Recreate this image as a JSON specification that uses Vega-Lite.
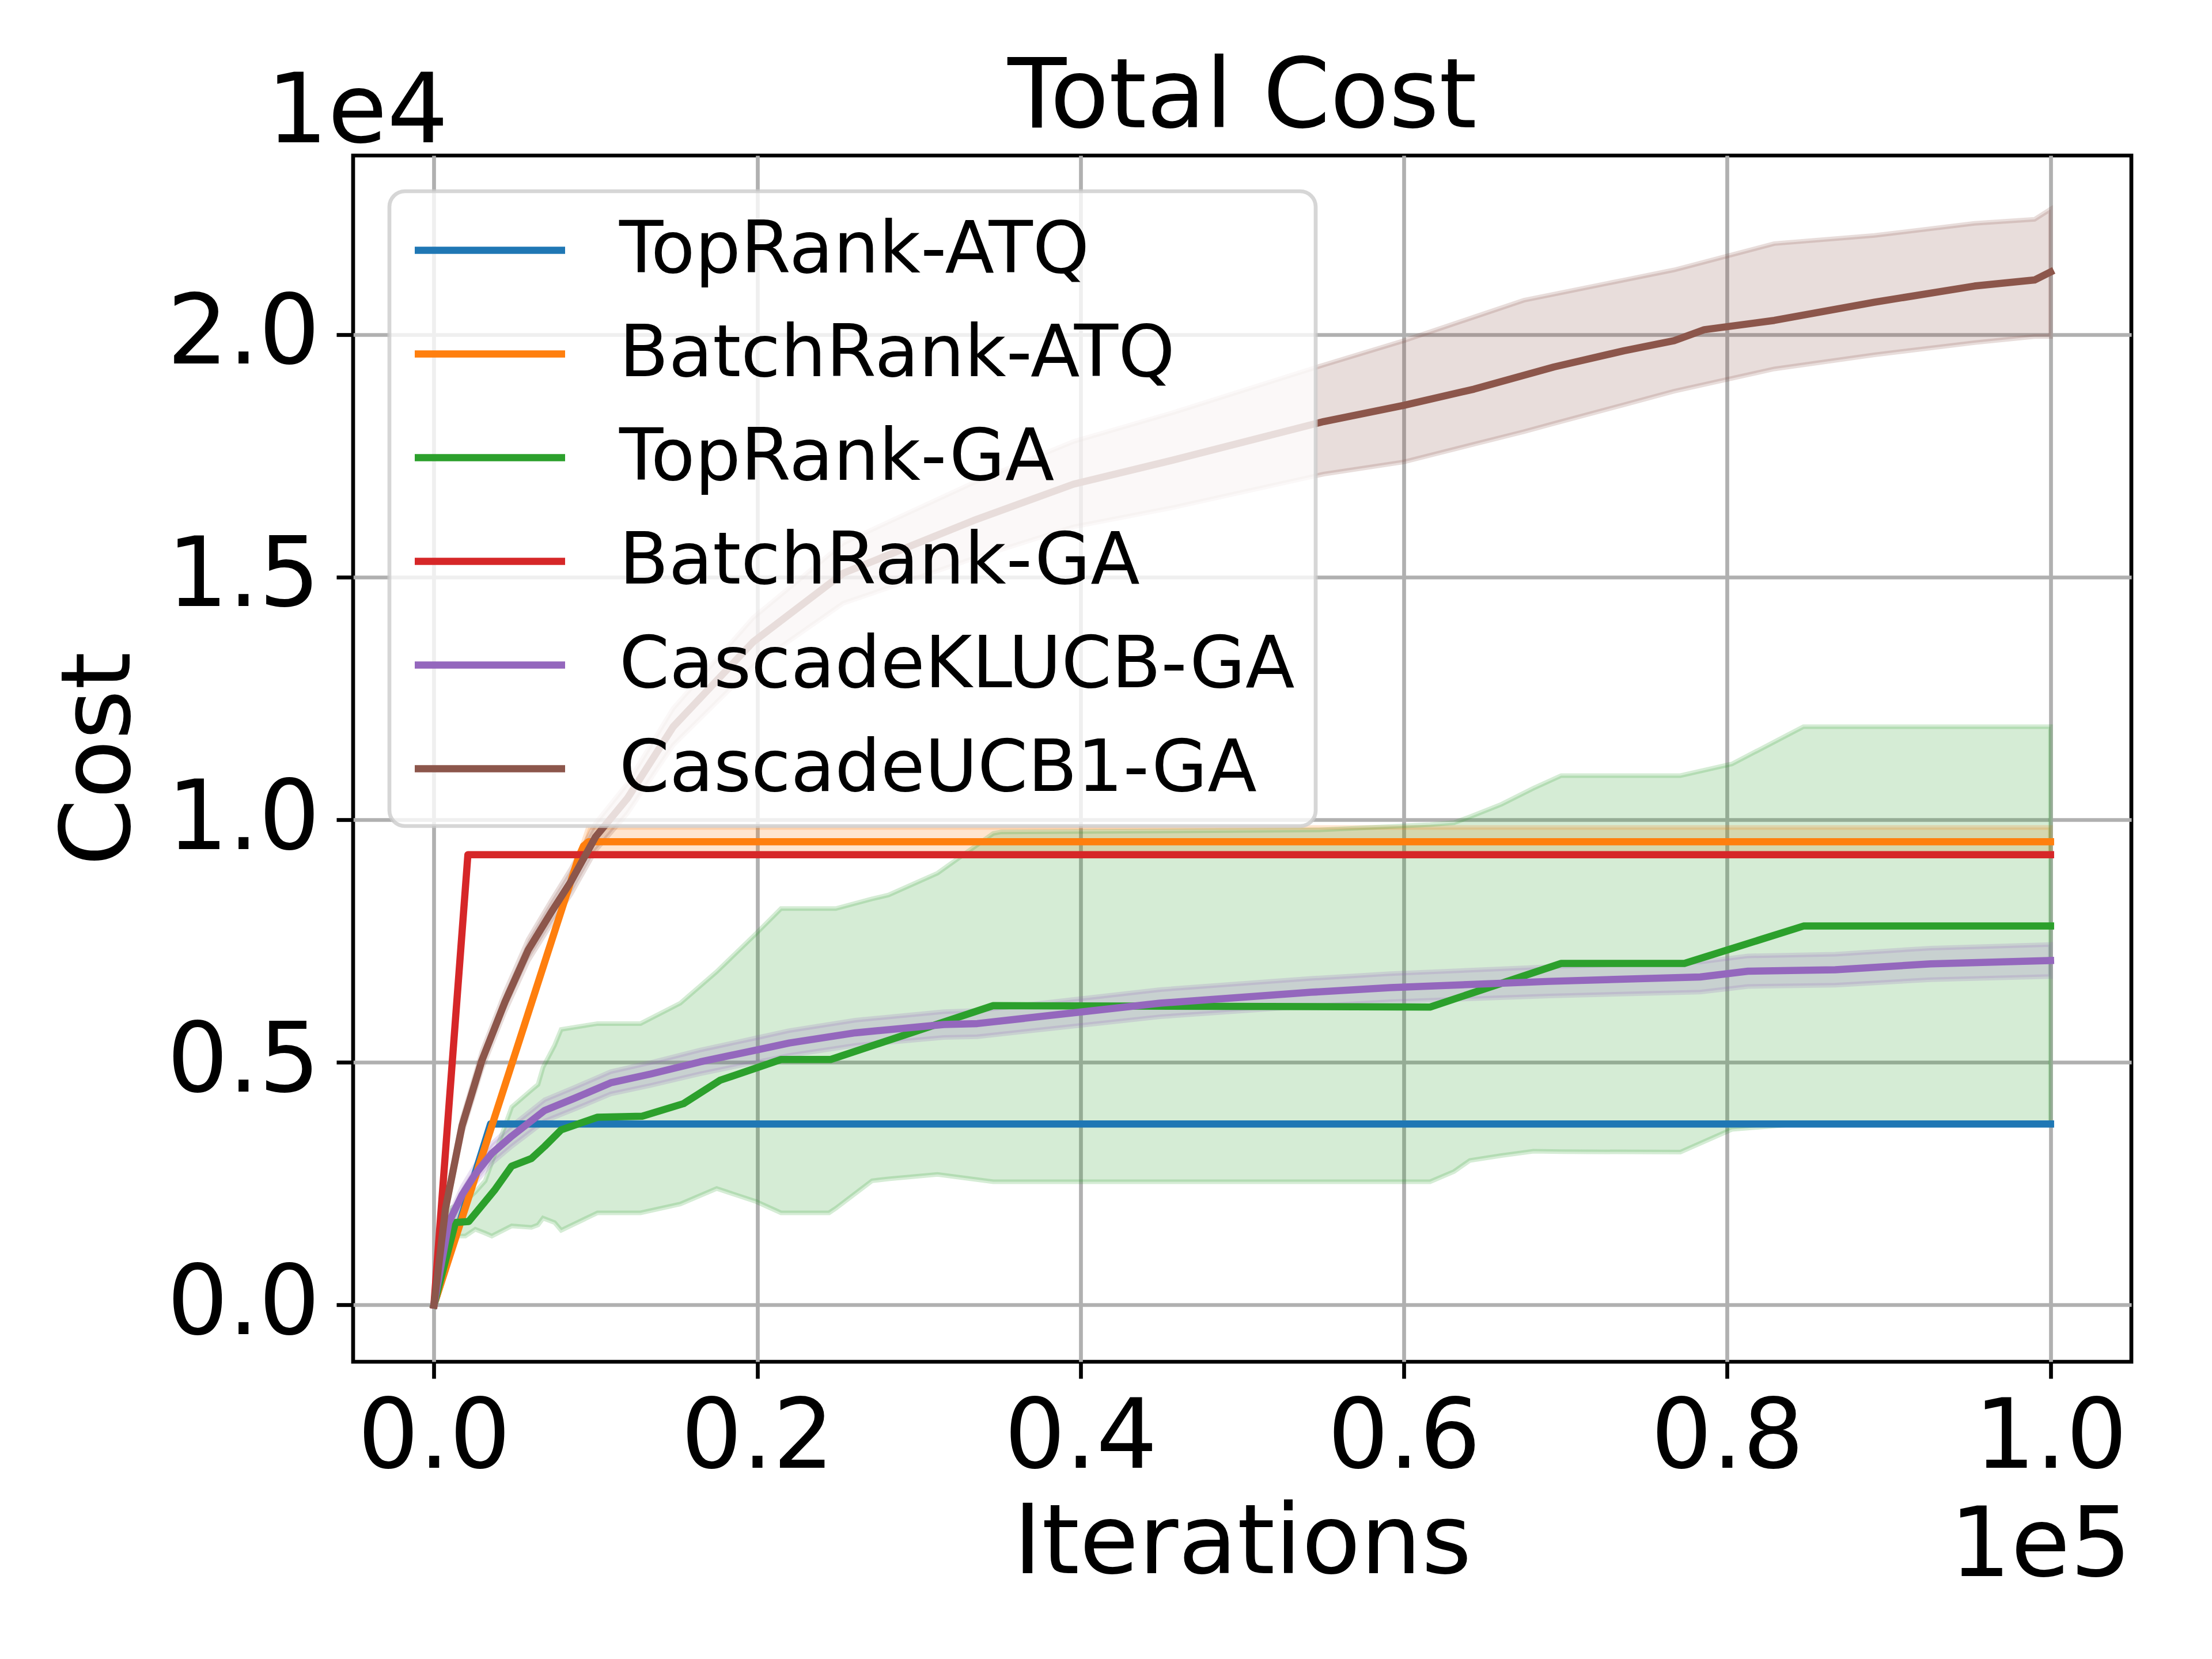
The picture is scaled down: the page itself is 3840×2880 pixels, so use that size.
{
  "$schema": "https://vega.github.io/schema/vega-lite/v6.json",
  "autosize": {"type": "none"},
  "padding": {"left": 613, "top": 270, "right": 140, "bottom": 516},
  "width": 3087,
  "height": 2094,
  "background": "white",
  "title": {
    "text": "Total Cost",
    "font": "DejaVu Sans",
    "fontSize": 167,
    "fontWeight": "normal",
    "color": "black",
    "anchor": "middle",
    "frame": "group",
    "baseline": "alphabetic",
    "offset": -275
  },
  "datasets": {
    "mean": [
      {"s": "TopRank-ATQ", "x": 0, "y": 0},
      {"s": "TopRank-ATQ", "x": 3500, "y": 3730},
      {"s": "TopRank-ATQ", "x": 100000, "y": 3730},
      {"s": "BatchRank-ATQ", "x": 0, "y": 0},
      {"s": "BatchRank-ATQ", "x": 8950, "y": 9230},
      {"s": "BatchRank-ATQ", "x": 9250, "y": 9460},
      {"s": "BatchRank-ATQ", "x": 9550, "y": 9546},
      {"s": "BatchRank-ATQ", "x": 100000, "y": 9546},
      {"s": "TopRank-GA", "x": 0, "y": 0},
      {"s": "TopRank-GA", "x": 1330, "y": 1700},
      {"s": "TopRank-GA", "x": 2150, "y": 1720},
      {"s": "TopRank-GA", "x": 3780, "y": 2380},
      {"s": "TopRank-GA", "x": 4800, "y": 2860},
      {"s": "TopRank-GA", "x": 6030, "y": 3020},
      {"s": "TopRank-GA", "x": 6850, "y": 3270},
      {"s": "TopRank-GA", "x": 7870, "y": 3610},
      {"s": "TopRank-GA", "x": 10120, "y": 3870},
      {"s": "TopRank-GA", "x": 12880, "y": 3890},
      {"s": "TopRank-GA", "x": 15440, "y": 4150},
      {"s": "TopRank-GA", "x": 17690, "y": 4630},
      {"s": "TopRank-GA", "x": 21470, "y": 5060},
      {"s": "TopRank-GA", "x": 24540, "y": 5060},
      {"s": "TopRank-GA", "x": 34600, "y": 6170},
      {"s": "TopRank-GA", "x": 61620, "y": 6140},
      {"s": "TopRank-GA", "x": 69730, "y": 7040},
      {"s": "TopRank-GA", "x": 77350, "y": 7040},
      {"s": "TopRank-GA", "x": 84720, "y": 7810},
      {"s": "TopRank-GA", "x": 100000, "y": 7810},
      {"s": "BatchRank-GA", "x": 0, "y": 0},
      {"s": "BatchRank-GA", "x": 2100, "y": 9280},
      {"s": "BatchRank-GA", "x": 100000, "y": 9280},
      {"s": "CascadeKLUCB-GA", "x": 0, "y": 0},
      {"s": "CascadeKLUCB-GA", "x": 920, "y": 1700},
      {"s": "CascadeKLUCB-GA", "x": 1740, "y": 2270},
      {"s": "CascadeKLUCB-GA", "x": 2560, "y": 2700},
      {"s": "CascadeKLUCB-GA", "x": 3580, "y": 3125},
      {"s": "CascadeKLUCB-GA", "x": 4810, "y": 3480},
      {"s": "CascadeKLUCB-GA", "x": 6850, "y": 4010},
      {"s": "CascadeKLUCB-GA", "x": 8690, "y": 4260},
      {"s": "CascadeKLUCB-GA", "x": 10940, "y": 4580},
      {"s": "CascadeKLUCB-GA", "x": 13400, "y": 4760},
      {"s": "CascadeKLUCB-GA", "x": 16460, "y": 5010},
      {"s": "CascadeKLUCB-GA", "x": 19940, "y": 5255},
      {"s": "CascadeKLUCB-GA", "x": 21980, "y": 5400},
      {"s": "CascadeKLUCB-GA", "x": 26070, "y": 5610},
      {"s": "CascadeKLUCB-GA", "x": 31550, "y": 5780},
      {"s": "CascadeKLUCB-GA", "x": 33610, "y": 5800},
      {"s": "CascadeKLUCB-GA", "x": 44910, "y": 6220},
      {"s": "CascadeKLUCB-GA", "x": 54250, "y": 6445},
      {"s": "CascadeKLUCB-GA", "x": 59160, "y": 6540},
      {"s": "CascadeKLUCB-GA", "x": 68990, "y": 6670},
      {"s": "CascadeKLUCB-GA", "x": 78330, "y": 6760},
      {"s": "CascadeKLUCB-GA", "x": 81280, "y": 6880},
      {"s": "CascadeKLUCB-GA", "x": 86680, "y": 6910},
      {"s": "CascadeKLUCB-GA", "x": 92580, "y": 7030},
      {"s": "CascadeKLUCB-GA", "x": 100000, "y": 7100},
      {"s": "CascadeUCB1-GA", "x": 0, "y": 0},
      {"s": "CascadeUCB1-GA", "x": 716, "y": 1990},
      {"s": "CascadeUCB1-GA", "x": 1738, "y": 3690},
      {"s": "CascadeUCB1-GA", "x": 2965, "y": 5040},
      {"s": "CascadeUCB1-GA", "x": 4397, "y": 6250},
      {"s": "CascadeUCB1-GA", "x": 5829, "y": 7315},
      {"s": "CascadeUCB1-GA", "x": 7260, "y": 8096},
      {"s": "CascadeUCB1-GA", "x": 8487, "y": 8735},
      {"s": "CascadeUCB1-GA", "x": 10000, "y": 9650},
      {"s": "CascadeUCB1-GA", "x": 11963, "y": 10440},
      {"s": "CascadeUCB1-GA", "x": 14798, "y": 11917},
      {"s": "CascadeUCB1-GA", "x": 19751, "y": 13667},
      {"s": "CascadeUCB1-GA", "x": 25324, "y": 15083},
      {"s": "CascadeUCB1-GA", "x": 27182, "y": 15333},
      {"s": "CascadeUCB1-GA", "x": 33374, "y": 16167},
      {"s": "CascadeUCB1-GA", "x": 39566, "y": 16917},
      {"s": "CascadeUCB1-GA", "x": 45758, "y": 17417},
      {"s": "CascadeUCB1-GA", "x": 55046, "y": 18208},
      {"s": "CascadeUCB1-GA", "x": 60000, "y": 18542},
      {"s": "CascadeUCB1-GA", "x": 64334, "y": 18875},
      {"s": "CascadeUCB1-GA", "x": 69288, "y": 19333},
      {"s": "CascadeUCB1-GA", "x": 73622, "y": 19667},
      {"s": "CascadeUCB1-GA", "x": 76718, "y": 19875},
      {"s": "CascadeUCB1-GA", "x": 78576, "y": 20100},
      {"s": "CascadeUCB1-GA", "x": 82910, "y": 20292},
      {"s": "CascadeUCB1-GA", "x": 89102, "y": 20667},
      {"s": "CascadeUCB1-GA", "x": 95294, "y": 21000},
      {"s": "CascadeUCB1-GA", "x": 99010, "y": 21125},
      {"s": "CascadeUCB1-GA", "x": 100000, "y": 21290}
    ],
    "band": [
      {"s": "BatchRank-ATQ", "x": 0, "lo": 0, "hi": 0},
      {"s": "BatchRank-ATQ", "x": 8950, "lo": 9230, "hi": 9230},
      {"s": "BatchRank-ATQ", "x": 9250, "lo": 9250, "hi": 9540},
      {"s": "BatchRank-ATQ", "x": 9550, "lo": 9250, "hi": 9840},
      {"s": "BatchRank-ATQ", "x": 100000, "lo": 9250, "hi": 9840},
      {"s": "TopRank-GA", "x": 0, "lo": 0, "hi": 0},
      {"s": "TopRank-GA", "x": 1000, "lo": 1420, "hi": 1990},
      {"s": "TopRank-GA", "x": 1940, "lo": 1420, "hi": 2140},
      {"s": "TopRank-GA", "x": 2560, "lo": 1560, "hi": 2330},
      {"s": "TopRank-GA", "x": 3170, "lo": 1480, "hi": 2560},
      {"s": "TopRank-GA", "x": 3580, "lo": 1420, "hi": 2940},
      {"s": "TopRank-GA", "x": 4810, "lo": 1630, "hi": 4080},
      {"s": "TopRank-GA", "x": 6030, "lo": 1600, "hi": 4430},
      {"s": "TopRank-GA", "x": 6440, "lo": 1650, "hi": 4545},
      {"s": "TopRank-GA", "x": 6750, "lo": 1790, "hi": 4900},
      {"s": "TopRank-GA", "x": 7460, "lo": 1700, "hi": 5350},
      {"s": "TopRank-GA", "x": 7870, "lo": 1540, "hi": 5680},
      {"s": "TopRank-GA", "x": 10120, "lo": 1900, "hi": 5800},
      {"s": "TopRank-GA", "x": 12780, "lo": 1900, "hi": 5800},
      {"s": "TopRank-GA", "x": 15240, "lo": 2080, "hi": 6220},
      {"s": "TopRank-GA", "x": 17490, "lo": 2400, "hi": 6870},
      {"s": "TopRank-GA", "x": 19940, "lo": 2130, "hi": 7660},
      {"s": "TopRank-GA", "x": 21470, "lo": 1900, "hi": 8170},
      {"s": "TopRank-GA", "x": 24440, "lo": 1900, "hi": 8170},
      {"s": "TopRank-GA", "x": 24850, "lo": 1990, "hi": 8170},
      {"s": "TopRank-GA", "x": 27100, "lo": 2560, "hi": 8370},
      {"s": "TopRank-GA", "x": 28120, "lo": 2600, "hi": 8450},
      {"s": "TopRank-GA", "x": 31150, "lo": 2690, "hi": 8900},
      {"s": "TopRank-GA", "x": 34600, "lo": 2540, "hi": 9720},
      {"s": "TopRank-GA", "x": 35090, "lo": 2540, "hi": 9750},
      {"s": "TopRank-GA", "x": 54740, "lo": 2540, "hi": 9790},
      {"s": "TopRank-GA", "x": 61620, "lo": 2540, "hi": 9900},
      {"s": "TopRank-GA", "x": 63100, "lo": 2750, "hi": 9940},
      {"s": "TopRank-GA", "x": 64080, "lo": 2980, "hi": 10060},
      {"s": "TopRank-GA", "x": 66040, "lo": 3080, "hi": 10320},
      {"s": "TopRank-GA", "x": 68010, "lo": 3170, "hi": 10650},
      {"s": "TopRank-GA", "x": 69730, "lo": 3160, "hi": 10910},
      {"s": "TopRank-GA", "x": 77100, "lo": 3150, "hi": 10910},
      {"s": "TopRank-GA", "x": 80290, "lo": 3620, "hi": 11150},
      {"s": "TopRank-GA", "x": 84720, "lo": 3740, "hi": 11920},
      {"s": "TopRank-GA", "x": 100000, "lo": 3740, "hi": 11920},
      {"s": "CascadeKLUCB-GA", "x": 0, "lo": 0, "hi": 0},
      {"s": "CascadeKLUCB-GA", "x": 920, "lo": 1570, "hi": 1830},
      {"s": "CascadeKLUCB-GA", "x": 1740, "lo": 2110, "hi": 2430},
      {"s": "CascadeKLUCB-GA", "x": 2560, "lo": 2520, "hi": 2880},
      {"s": "CascadeKLUCB-GA", "x": 3580, "lo": 2925, "hi": 3325},
      {"s": "CascadeKLUCB-GA", "x": 4810, "lo": 3270, "hi": 3690},
      {"s": "CascadeKLUCB-GA", "x": 6850, "lo": 3790, "hi": 4230},
      {"s": "CascadeKLUCB-GA", "x": 8690, "lo": 4035, "hi": 4485},
      {"s": "CascadeKLUCB-GA", "x": 10940, "lo": 4350, "hi": 4810},
      {"s": "CascadeKLUCB-GA", "x": 13400, "lo": 4525, "hi": 4995},
      {"s": "CascadeKLUCB-GA", "x": 16460, "lo": 4765, "hi": 5255},
      {"s": "CascadeKLUCB-GA", "x": 19940, "lo": 5005, "hi": 5505},
      {"s": "CascadeKLUCB-GA", "x": 21980, "lo": 5145, "hi": 5655},
      {"s": "CascadeKLUCB-GA", "x": 26070, "lo": 5350, "hi": 5870},
      {"s": "CascadeKLUCB-GA", "x": 31550, "lo": 5515, "hi": 6045},
      {"s": "CascadeKLUCB-GA", "x": 33610, "lo": 5530, "hi": 6070},
      {"s": "CascadeKLUCB-GA", "x": 44910, "lo": 5940, "hi": 6500},
      {"s": "CascadeKLUCB-GA", "x": 54250, "lo": 6160, "hi": 6730},
      {"s": "CascadeKLUCB-GA", "x": 59160, "lo": 6250, "hi": 6830},
      {"s": "CascadeKLUCB-GA", "x": 68990, "lo": 6370, "hi": 6970},
      {"s": "CascadeKLUCB-GA", "x": 78330, "lo": 6450, "hi": 7070},
      {"s": "CascadeKLUCB-GA", "x": 81280, "lo": 6565, "hi": 7195},
      {"s": "CascadeKLUCB-GA", "x": 86680, "lo": 6590, "hi": 7230},
      {"s": "CascadeKLUCB-GA", "x": 92580, "lo": 6705, "hi": 7355},
      {"s": "CascadeKLUCB-GA", "x": 100000, "lo": 6770, "hi": 7430},
      {"s": "CascadeUCB1-GA", "x": 0, "lo": 0, "hi": 0},
      {"s": "CascadeUCB1-GA", "x": 716, "lo": 1890, "hi": 2090},
      {"s": "CascadeUCB1-GA", "x": 1738, "lo": 3540, "hi": 3840},
      {"s": "CascadeUCB1-GA", "x": 2965, "lo": 4860, "hi": 5220},
      {"s": "CascadeUCB1-GA", "x": 4397, "lo": 6050, "hi": 6450},
      {"s": "CascadeUCB1-GA", "x": 5829, "lo": 7095, "hi": 7535},
      {"s": "CascadeUCB1-GA", "x": 7260, "lo": 7856, "hi": 8336},
      {"s": "CascadeUCB1-GA", "x": 8487, "lo": 8475, "hi": 8995},
      {"s": "CascadeUCB1-GA", "x": 10000, "lo": 9370, "hi": 9930},
      {"s": "CascadeUCB1-GA", "x": 11963, "lo": 10130, "hi": 10750},
      {"s": "CascadeUCB1-GA", "x": 14798, "lo": 11537, "hi": 12297},
      {"s": "CascadeUCB1-GA", "x": 19751, "lo": 13167, "hi": 14167},
      {"s": "CascadeUCB1-GA", "x": 25324, "lo": 14463, "hi": 15703},
      {"s": "CascadeUCB1-GA", "x": 27182, "lo": 14673, "hi": 15993},
      {"s": "CascadeUCB1-GA", "x": 33374, "lo": 15387, "hi": 16947},
      {"s": "CascadeUCB1-GA", "x": 39566, "lo": 16037, "hi": 17797},
      {"s": "CascadeUCB1-GA", "x": 45758, "lo": 16437, "hi": 18397},
      {"s": "CascadeUCB1-GA", "x": 55046, "lo": 17125, "hi": 19375},
      {"s": "CascadeUCB1-GA", "x": 60000, "lo": 17375, "hi": 19875},
      {"s": "CascadeUCB1-GA", "x": 64334, "lo": 17740, "hi": 20361},
      {"s": "CascadeUCB1-GA", "x": 67430, "lo": 18000, "hi": 20708},
      {"s": "CascadeUCB1-GA", "x": 69288, "lo": 18167, "hi": 20833},
      {"s": "CascadeUCB1-GA", "x": 73622, "lo": 18555, "hi": 21125},
      {"s": "CascadeUCB1-GA", "x": 76718, "lo": 18833, "hi": 21333},
      {"s": "CascadeUCB1-GA", "x": 82910, "lo": 19292, "hi": 21875},
      {"s": "CascadeUCB1-GA", "x": 89102, "lo": 19583, "hi": 22042},
      {"s": "CascadeUCB1-GA", "x": 95294, "lo": 19833, "hi": 22292},
      {"s": "CascadeUCB1-GA", "x": 99010, "lo": 19958, "hi": 22375},
      {"s": "CascadeUCB1-GA", "x": 100000, "lo": 19958, "hi": 22583}
    ],
    "notes": [
      {"label": "1e4"},
      {"label": "1e5"}
    ]
  },
  "layer": [
    {
      "data": {"name": "band"},
      "mark": {"type": "area", "fillOpacity": 0.2},
      "encoding": {
        "x": {
          "field": "x",
          "type": "quantitative",
          "title": "Iterations",
          "scale": {"domain": [-5000, 105000], "nice": false, "zero": false},
          "axis": {
            "values": [0, 20000, 40000, 60000, 80000, 100000],
            "labelExpr": "format(datum.value / 100000, '.1f')",
            "labelPadding": 22,
            "titlePadding": 18
          }
        },
        "y": {
          "field": "lo",
          "type": "quantitative",
          "title": "Cost",
          "scale": {"domain": [-1170, 23690], "nice": false, "zero": false},
          "axis": {
            "values": [0, 5000, 10000, 15000, 20000],
            "labelExpr": "format(datum.value / 10000, '.1f')",
            "labelPadding": 29,
            "titlePadding": 30
          }
        },
        "y2": {"field": "hi"},
        "color": {"field": "s", "type": "nominal", "legend": null}
      }
    },
    {
      "data": {"name": "band"},
      "mark": {"type": "area", "filled": false, "strokeOpacity": 0.2, "strokeWidth": 8},
      "encoding": {
        "x": {"field": "x", "type": "quantitative", "title": "Iterations"},
        "y": {"field": "lo", "type": "quantitative", "title": "Cost"},
        "y2": {"field": "hi"},
        "color": {"field": "s", "type": "nominal", "legend": null}
      }
    },
    {
      "data": {"name": "mean"},
      "mark": {"type": "line", "strokeWidth": 12.5, "strokeJoin": "round", "strokeCap": "square"},
      "encoding": {
        "x": {"field": "x", "type": "quantitative", "title": "Iterations"},
        "y": {"field": "y", "type": "quantitative", "title": "Cost"},
        "color": {
          "field": "s",
          "type": "nominal",
          "scale": {
            "domain": ["TopRank-ATQ", "BatchRank-ATQ", "TopRank-GA", "BatchRank-GA", "CascadeKLUCB-GA", "CascadeUCB1-GA"],
            "range": ["#1f77b4", "#ff7f0e", "#2ca02c", "#d62728", "#9467bd", "#8c564b"]
          },
          "legend": {
            "title": null,
            "orient": "none",
            "legendX": 63,
            "legendY": 62,
            "direction": "vertical",
            "fillColor": "rgba(255,255,255,0.8)",
            "strokeColor": "rgba(204,204,204,0.8)",
            "cornerRadius": 27,
            "padding": 36,
            "labelFont": "DejaVu Sans",
            "labelFontSize": 125,
            "labelColor": "black",
            "labelLimit": 3000,
            "labelOffset": 158,
            "symbolType": "M-2.175,0H2.175",
            "symbolSize": 14400,
            "symbolStrokeWidth": 12.5,
            "symbolOffset": 72,
            "rowPadding": 50
          }
        }
      }
    },
    {
      "data": {"name": "notes"},
      "transform": [{"filter": "datum.label == '1e4'"}],
      "mark": {"type": "text", "clip": false, "font": "DejaVu Sans", "fontSize": 167, "align": "left", "baseline": "alphabetic", "dx": -150, "dy": -23, "color": "black"},
      "encoding": {
        "x": {"datum": -5000},
        "y": {"datum": 23690},
        "text": {"field": "label"}
      }
    },
    {
      "data": {"name": "notes"},
      "transform": [{"filter": "datum.label == '1e5'"}],
      "mark": {"type": "text", "clip": false, "font": "DejaVu Sans", "fontSize": 167, "align": "right", "baseline": "alphabetic", "dy": 372, "color": "black"},
      "encoding": {
        "x": {"datum": 105000},
        "y": {"datum": -1170},
        "text": {"field": "label"}
      }
    }
  ],
  "resolve": {"legend": {"color": "independent"}},
  "config": {
    "view": {"stroke": "black", "strokeWidth": 6.7},
    "legend": {"strokeWidth": 6.7},
    "axis": {
      "domain": false,
      "grid": true,
      "gridColor": "#b0b0b0",
      "gridWidth": 6.7,
      "tickColor": "black",
      "tickWidth": 6.7,
      "tickSize": 29,
      "maxExtent": 2000,
      "labelFont": "DejaVu Sans",
      "labelFontSize": 167,
      "labelColor": "black",
      "labelLimit": 2000,
      "labelFlush": false,
      "labelOverlap": false,
      "labelBound": false,
      "titleFont": "DejaVu Sans",
      "titleFontSize": 167,
      "titleFontWeight": "normal",
      "titleColor": "black"
    }
  }
}
